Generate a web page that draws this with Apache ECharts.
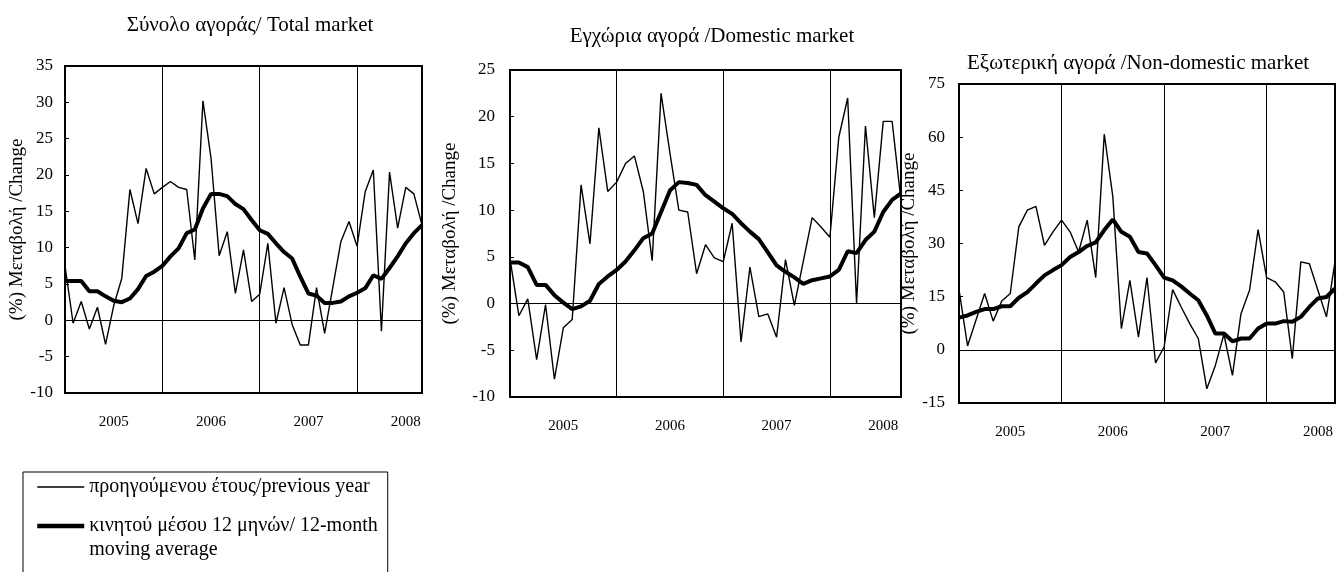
<!DOCTYPE html>
<html>
<head>
<meta charset="utf-8">
<script src="https://cdn.jsdelivr.net/npm/echarts@6/dist/echarts.min.js"></script>
<style>
html,body{margin:0;padding:0;background:#fff;}
#chart{width:1337px;height:572px;}
</style>
</head>
<body>
<div id="chart"></div>
<script>
const months = [
  '2005-01','2005-02','2005-03','2005-04','2005-05','2005-06','2005-07','2005-08','2005-09','2005-10','2005-11','2005-12',
  '2006-01','2006-02','2006-03','2006-04','2006-05','2006-06','2006-07','2006-08','2006-09','2006-10','2006-11','2006-12',
  '2007-01','2007-02','2007-03','2007-04','2007-05','2007-06','2007-07','2007-08','2007-09','2007-10','2007-11','2007-12',
  '2008-01','2008-02','2008-03','2008-04','2008-05','2008-06','2008-07','2008-08','2008-09'
];

const totalPrev = [7.5,-0.4,2.6,-1.2,1.8,-3.3,2.0,5.8,18.0,13.3,20.9,17.4,18.3,19.1,18.3,18.0,8.3,30.2,22.3,8.9,12.2,3.7,9.7,2.6,3.6,10.6,-0.4,4.5,-0.6,-3.4,-3.4,4.5,-1.8,4.5,10.8,13.6,10.2,17.7,20.7,-1.5,20.4,12.7,18.3,17.4,13.1];
const totalMA   = [5.4,5.4,5.4,4.0,4.0,3.3,2.7,2.5,3.0,4.3,6.1,6.7,7.5,8.8,9.9,12.0,12.5,15.4,17.4,17.4,17.1,16.0,15.3,13.8,12.4,11.9,10.6,9.4,8.5,6.0,3.7,3.4,2.4,2.4,2.6,3.3,3.8,4.4,6.2,5.7,7.2,8.8,10.6,12.0,13.1];

const domPrev = [4.8,-1.3,0.5,-6.0,-0.1,-8.1,-2.6,-1.7,12.7,6.4,18.8,12.0,13.0,15.0,15.8,12.0,4.6,22.5,16.1,10.0,9.8,3.2,6.3,4.9,4.5,8.6,-4.1,3.9,-1.4,-1.1,-3.6,4.7,-0.2,4.5,9.2,8.2,7.1,17.8,22.0,0.0,19.0,9.2,19.5,19.5,11.0];
const domMA   = [4.4,4.4,3.9,2.0,2.0,0.9,0.1,-0.6,-0.3,0.3,2.1,2.9,3.6,4.5,5.7,7.0,7.5,9.8,12.1,13.0,12.9,12.7,11.6,10.9,10.2,9.6,8.6,7.7,6.9,5.5,4.1,3.4,2.8,2.1,2.5,2.7,2.9,3.6,5.6,5.4,6.8,7.7,9.8,11.1,11.8];

const nonPrev = [17.0,1.1,8.5,15.9,8.1,13.8,15.9,34.7,39.4,40.5,29.5,33.3,36.6,33.3,27.6,36.6,20.4,60.9,43.2,6.0,19.6,3.6,20.4,-3.7,0.8,17.0,12.1,7.4,3.2,-11.0,-4.4,4.4,-7.2,10.2,16.8,33.9,20.4,19.2,16.3,-2.5,24.8,24.3,16.8,9.3,24.8];
const nonMA   = [9.1,9.7,10.7,11.5,11.5,12.3,12.3,14.7,16.3,18.7,21.0,22.5,23.9,26.2,27.6,29.3,30.3,33.8,36.8,33.3,31.9,27.6,27.2,23.9,20.4,19.6,17.9,15.9,14.0,9.7,4.6,4.6,2.4,3.2,3.2,6.0,7.4,7.4,8.1,7.9,9.3,12.1,14.5,14.9,17.3];

const titles = ['Σύνολο αγοράς/ Total market', 'Εγχώρια αγορά /Domestic market', 'Εξωτερική αγορά /Non-domestic market'];
const yName = '(%) Μεταβολή /Change';
const prevName = 'προηγούμενου έτους/previous year';
const maName = 'κινητού μέσου 12 μηνών/ 12-month';
const maName2 = 'moving average';

const yMin = [-10, -10, -15];
const yMax = [35, 25, 75];
const yStep = [5, 5, 15];

const FONT = 'Liberation Serif';

const panels = [
  {prev: totalPrev, ma: totalMA},
  {prev: domPrev, ma: domMA},
  {prev: nonPrev, ma: nonMA}
];

const gridBoxes = [
  {left: 65, top: 66, width: 357, height: 327},
  {left: 510, top: 70, width: 391, height: 327},
  {left: 959, top: 84, width: 376, height: 319}
];
const titleCenters = [250, 712, 1138];
const titleTops = [15, 26, 53];
const nameGaps = [38, 50, 34];
const labelMargins = [12, 15, 14];

const chart = echarts.init(document.getElementById('chart'), null, {renderer: 'canvas'});

const option = {
  animation: false,
  backgroundColor: '#fff',
  title: titles.map((t, i) => ({
    text: t,
    left: titleCenters[i],
    top: titleTops[i],
    textAlign: 'center',
    padding: 0,
    textStyle: {fontFamily: FONT, fontSize: 21, fontWeight: 'normal', color: '#000'}
  })),
  legend: {
    left: 23,
    top: 472,
    height: 400,
    orient: 'vertical',
    borderColor: '#000',
    borderWidth: 1,
    padding: [3, 10, 30, 12],
    itemGap: -9,
    itemWidth: 47,
    itemHeight: 14,
    selectedMode: false,
    itemStyle: {opacity: 0},
    textStyle: {fontFamily: FONT, fontSize: 20, color: '#000', lineHeight: 24},
    formatter: n => n === maName ? '\n' + maName + '\n' + maName2 : n,
    data: [
      {name: prevName, lineStyle: {width: 1.5, color: '#000'}},
      {name: maName, lineStyle: {width: 4.5, color: '#000'}}
    ]
  },
  grid: gridBoxes.map(g => Object.assign({show: true, borderColor: '#000', borderWidth: 2, backgroundColor: 'transparent'}, g)),
  xAxis: panels.map((p, i) => ({
    type: 'category',
    gridIndex: i,
    data: months,
    boundaryGap: false,
    axisLine: {show: false},
    axisTick: {show: false},
    axisLabel: {
      interval: (idx, v) => v.slice(5) === '07',
      formatter: v => v.slice(0, 4),
      margin: 22,
      fontFamily: FONT, fontSize: 15, color: '#000'
    },
    splitLine: {
      show: true,
      interval: (idx, v) => v.slice(5) === '01' && idx > 0,
      lineStyle: {color: '#000', width: 1}
    }
  })),
  yAxis: panels.map((p, i) => ({
    type: 'value',
    gridIndex: i,
    min: yMin[i],
    max: yMax[i],
    interval: yStep[i],
    axisLine: {show: false},
    axisTick: {show: true, inside: true, length: 4, lineStyle: {color: '#000'}},
    splitLine: {show: false},
    axisLabel: {margin: labelMargins[i], fontFamily: FONT, fontSize: 17, color: '#000'},
    name: yName,
    nameLocation: 'middle',
    nameGap: nameGaps[i],
    nameTextStyle: {fontFamily: FONT, fontSize: 19, color: '#000'}
  })),
  series: panels.flatMap((p, i) => ([
    {
      name: prevName,
      type: 'line',
      xAxisIndex: i,
      yAxisIndex: i,
      data: p.prev,
      symbol: 'none',
      lineStyle: {color: '#000', width: 1.4},
      itemStyle: {color: '#000'},
      markLine: {
        silent: true,
        symbol: ['none', 'none'],
        label: {show: false},
        lineStyle: {color: '#000', width: 1, type: 'solid'},
        data: [{yAxis: 0}]
      }
    },
    {
      name: maName,
      type: 'line',
      xAxisIndex: i,
      yAxisIndex: i,
      data: p.ma,
      symbol: 'none',
      lineStyle: {color: '#000', width: 4},
      itemStyle: {color: '#000'}
    }
  ]))
};

chart.setOption(option);
</script>
</body>
</html>
